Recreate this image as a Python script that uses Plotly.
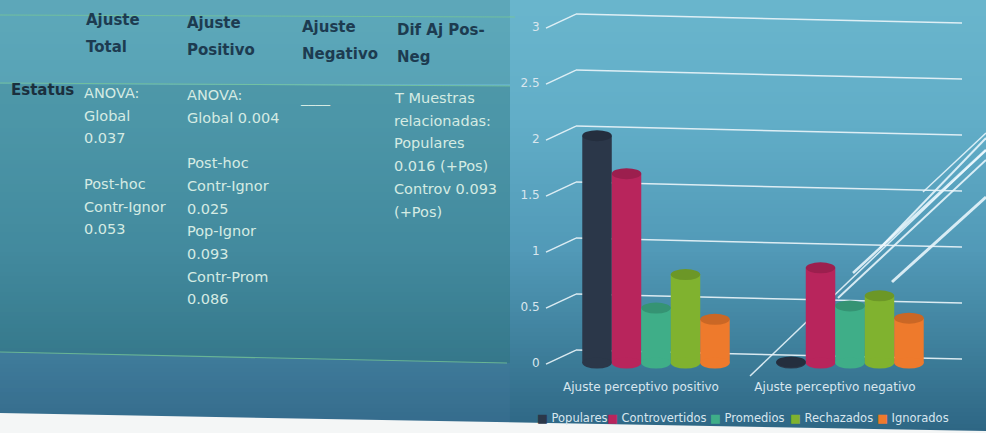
import plotly.graph_objects as go

W, H = 986, 433

# ---------------- data ----------------
categories = ["Ajuste perceptivo positivo", "Ajuste perceptivo negativo"]
series_names = ["Populares", "Controvertidos", "Promedios", "Rechazados", "Ignorados"]
populares = [2.03, 0.01]
controvertidos = [1.69, 0.85]
promedios = [0.49, 0.51]
rechazados = [0.79, 0.60]
ignorados = [0.39, 0.40]
series_values = [populares, controvertidos, promedios, rechazados, ignorados]
series_colors = ["#2b3749", "#b8255c", "#3fae88", "#80b22f", "#ee7a2c"]

y_ticks = [0, 0.5, 1, 1.5, 2, 2.5, 3]
y_tick_labels = ["0", "0.5", "1", "1.5", "2", "2.5", "3"]

table_headers = [["Ajuste", "Total"], ["Ajuste", "Positivo"], ["Ajuste", "Negativo"], ["Dif Aj Pos-", "Neg"]]
row_label = "Estatus"
col_total = ["ANOVA:", "Global", "0.037", "", "Post-hoc", "Contr-Ignor", "0.053"]
col_pos = ["ANOVA:", "Global 0.004", "", "Post-hoc", "Contr-Ignor", "0.025", "Pop-Ignor", "0.093", "Contr-Prom", "0.086"]
col_neg = ["____"]
col_dif = ["T Muestras", "relacionadas:", "Populares", "0.016 (+Pos)", "Controv 0.093", "(+Pos)"]
table_columns = [col_total, col_pos, col_neg, col_dif]

# ---------------- helpers ----------------
def px(x):
    return x / W

def py(y):
    return 1 - y / H

def hexrgb(h):
    h = h.lstrip("#")
    return tuple(int(h[i:i + 2], 16) for i in (0, 2, 4))

def shade(h, f):
    r, g, b = hexrgb(h)
    return "rgb(%d,%d,%d)" % (int(r * f), int(g * f), int(b * f))

FONT = "DejaVu Sans"
BAR_GAP = 0.24
Y_MIN, Y_MAX = -0.06, 3.2
PX_PER_UNIT = 112.0
Y0_PX = 363.0

fig = go.Figure()
for name, vals, col in zip(series_names, series_values, series_colors):
    fig.add_trace(go.Bar(
        name=name, x=categories, y=vals, marker=dict(color=col, line=dict(width=0)),
        showlegend=False,
    ))

shapes = []
# background gradient stripes
stops = [(0, (106, 182, 205)), (120, (98, 174, 200)), (250, (82, 154, 184)),
         (340, (64, 130, 158)), (433, (46, 102, 132))]

def bg_color(y):
    for (y0, c0), (y1, c1) in zip(stops[:-1], stops[1:]):
        if y0 <= y <= y1:
            t = (y - y0) / (y1 - y0)
            return "rgb(%d,%d,%d)" % tuple(int(a + (b - a) * t) for a, b in zip(c0, c1))
    return "rgb(46,102,132)"

step = 4
for y in range(0, H, step):
    shapes.append(dict(type="rect", xref="paper", yref="paper", x0=0, x1=1,
                       y0=py(y + step + 0.5), y1=py(y), fillcolor=bg_color(y + step / 2),
                       line=dict(width=0), layer="below"))

# table overlays
shapes.append(dict(type="rect", xref="paper", yref="paper", x0=0, x1=px(510), y0=py(84), y1=py(0),
                   fillcolor="rgba(45,115,110,0.2)", line=dict(width=0), layer="below"))
shapes.append(dict(type="path", xref="paper", yref="paper",
                   path="M 0 %f L %f %f L %f %f L 0 %f Z" % (py(84), px(510), py(86), px(510), py(363), py(352)),
                   fillcolor="rgba(45,115,120,0.4)", line=dict(width=0), layer="below"))
shapes.append(dict(type="path", xref="paper", yref="paper",
                   path="M 0 %f L %f %f L %f %f L 0 %f Z" % (py(352), px(510), py(363), px(510), py(425), py(413)),
                   fillcolor="rgba(70,120,160,0.25)", line=dict(width=0), layer="below"))
# table lines
for (x0, y0, x1, y1) in [(0, 15, 515, 17), (0, 83, 510, 86), (0, 352, 507, 363)]:
    shapes.append(dict(type="line", xref="paper", yref="paper", x0=px(x0), y0=py(y0), x1=px(x1), y1=py(y1),
                       line=dict(color="rgba(120,200,150,0.75)", width=1.2), layer="below"))

# decorative diagonal lines
for (x0, y0, x1, y1, w) in [(750, 376, 986, 150, 1.5), (838, 298, 986, 160, 2), (853, 273, 986, 150, 2.5),
                            (892, 282, 986, 197, 3), (923, 192, 986, 133, 1.5), (880, 248, 986, 138, 2)]:
    shapes.append(dict(type="line", xref="paper", yref="paper", x0=px(x0), y0=py(y0), x1=px(x1), y1=py(y1),
                       line=dict(color="rgba(240,250,255,0.85)", width=w), layer="below"))

# perspective gridlines (front stub + back wall line)
for v in y_ticks:
    shapes.append(dict(type="line", xref="paper", yref="y", x0=px(546), y0=v - 0.01, x1=px(576), y1=v + 0.115,
                       line=dict(color="rgba(235,245,250,0.9)", width=1.5), layer="below"))
    shapes.append(dict(type="line", xref="paper", yref="y", x0=px(576), y0=v + 0.115, x1=px(962), y1=v + 0.035,
                       line=dict(color="rgba(235,245,250,0.9)", width=1.5), layer="below"))

# cylinder caps
bw = (1 - BAR_GAP) / len(series_names)
half = 5.5 / PX_PER_UNIT
for j, (vals, col) in enumerate(zip(series_values, series_colors)):
    off = (j - (len(series_names) - 1) / 2) * bw
    for i, v in enumerate(vals):
        xc = i + off
        shapes.append(dict(type="circle", xref="x", yref="y", x0=xc - bw / 2, x1=xc + bw / 2,
                           y0=-half, y1=half, fillcolor=col, line=dict(width=0), layer="above"))
        shapes.append(dict(type="circle", xref="x", yref="y", x0=xc - bw / 2, x1=xc + bw / 2,
                           y0=v - half, y1=v + half, fillcolor=shade(col, 0.85), line=dict(width=0), layer="above"))

# bottom paper edge of the photo
shapes.append(dict(type="path", xref="paper", yref="paper",
                   path="M 0 %f L 1 %f L 1 0 L 0 0 Z" % (py(413), py(431)),
                   fillcolor="#f4f6f6", line=dict(width=0), layer="above"))

# ---------------- annotations ----------------
ann = []

def add_text(text, x, y, size, color, bold=False, anchor="left"):
    if bold:
        text = "<b>%s</b>" % text
    ann.append(dict(text=text, x=px(x), y=py(y), xref="paper", yref="paper", xanchor=anchor, yanchor="middle",
                    showarrow=False, font=dict(family=FONT, size=size, color=color)))

HEAD_COL = "#1d3b50"
BODY_COL = "#d5ebe3"
head_x = [84, 185, 300, 395]
head_y = [20, 23, 27, 30]
for lines, x, y in zip(table_headers, head_x, head_y):
    for k, t in enumerate(lines):
        add_text(t, x, y + 27 * k, 15, HEAD_COL, bold=True)

add_text(row_label, 9, 90, 15, "#1b2f3d", bold=True)
body_x = [82, 185, 298, 392]
body_y = [93, 95, 98, 98]
for lines, x, y in zip(table_columns, body_x, body_y):
    for k, t in enumerate(lines):
        if t:
            add_text(t, x, y + 22.7 * k, 14.5, BODY_COL)

# compact legend text
leg_x = [535, 605, 708, 788, 875]
for name, col, x in zip(series_names, series_colors, leg_x):
    add_text("<span style='color:%s'>■</span> %s" % (col, name), x, 418, 11.5, "#d8e6ee")

fig.update_layout(
    width=W, height=H, margin=dict(l=0, r=0, t=0, b=0),
    paper_bgcolor="#4f98b4", plot_bgcolor="rgba(0,0,0,0)",
    barmode="group", bargap=BAR_GAP, bargroupgap=0,
    shapes=shapes, annotations=ann,
    font=dict(family=FONT, color="#d8e6ee"),
    xaxis=dict(domain=[px(559), px(947)], range=[-0.5, 1.5], showgrid=False, zeroline=False, showline=False,
               ticks="", tickfont=dict(size=12, color="#d8e6ee"), ticklabelstandoff=8, ticklabelshift=-15),
    yaxis=dict(domain=[py(Y0_PX - Y_MIN * PX_PER_UNIT), py(Y0_PX - Y_MAX * PX_PER_UNIT)], range=[Y_MIN, Y_MAX],
               tickvals=y_ticks, ticktext=y_tick_labels, showgrid=False, zeroline=False, showline=False,
               ticks="outside", ticklen=16, tickcolor="rgba(0,0,0,0)", tickfont=dict(size=12, color="#d8e6ee")),
)

fig.write_html("out.html")
